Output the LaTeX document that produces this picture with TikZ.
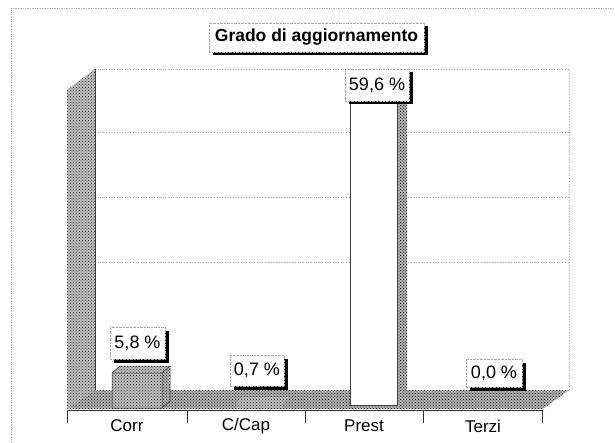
\documentclass[tikz,border=0pt]{standalone}
\usepackage{fontspec}
\setmainfont{Liberation Sans}
\usetikzlibrary{shadows,patterns}
\begin{document}
\begin{tikzpicture}[x=1pt,y=-1pt,
  lbl/.style={draw=gray!70, densely dotted, fill=white, inner sep=0pt,
    font=\fontsize{18}{21}\selectfont,
    drop shadow={shadow xshift=3.5pt, shadow yshift=-3.5pt, fill=black, opacity=1}},
  grid/.style={gray!70, dotted, line width=0.7pt},
  frame/.style={gray!60, densely dotted, line width=0.7pt},
  halftone/.style={preaction={fill=gray!50}, pattern=crosshatch dots, pattern color=gray!30!black},
  halfdark/.style={preaction={fill=gray!60}, pattern=crosshatch dots, pattern color=black},
  cat/.style={font=\fontsize{17}{20}\selectfont, inner sep=0pt},
  tick/.style={gray!40!black, line width=0.8pt}]
\useasboundingbox (0,0) rectangle (615,443);
\fill[white] (0,0) rectangle (615,443);
% outer frame (top and left)
\draw[frame] (11,443) -- (11,8) -- (615,8);
% back wall
\draw[grid] (95,69) -- (569,69) -- (569,390);
\draw[grid] (95,132) -- (569,132);
\draw[grid] (95,197) -- (569,197);
\draw[grid] (95,262) -- (569,262);
% side wall
\fill[halftone] (67,90) -- (95,69) -- (95,390) -- (67,409) -- cycle;
\draw[gray!50!black, line width=0.6pt] (95,69) -- (95,390);
% floor
\fill[halfdark] (95,390) -- (569,390) -- (543,409) -- (67,409) -- cycle;
% axis
\coordinate (a0) at (67,410);
\coordinate (a4) at (543,410);
\draw[tick] (a0) -- (a4);
\foreach \x in {67,187,305,423,542} \draw[tick] (\x,410) -- (\x,423);
\node[cat] (corr) at (127,426) {Corr};
\node[cat] (ccap) at (246,426) {C/Cap};
\node[cat] (prest) at (364,426) {Prest};
\node[cat] (terzi) at (483,426) {Terzi};
% Corr bar
\fill[halftone] (112,373) rectangle (162,408);
\fill[halftone] (112,373) -- (120,366) -- (170,366) -- (162,373) -- cycle;
\fill[halfdark] (162,373) -- (170,366) -- (170,401) -- (162,408) -- cycle;
\draw[gray!40!black, line width=0.5pt] (112,408) -- (112,373) -- (120,366) -- (170,366) -- (170,401) -- (162,408) -- cycle (112,373) -- (162,373) -- (162,408) (162,373) -- (170,366);
% C/Cap slab
\fill[halftone] (236,403) rectangle (283,408);
\fill[halftone] (236,403) -- (243,397) -- (290,397) -- (283,403) -- cycle;
% Prest bar
\fill[halfdark] (397,103) -- (407,96) -- (407,398) -- (397,405) -- cycle;
\draw[fill=white, draw=gray!50!black, line width=0.9pt] (350,103) rectangle (397,405);
% value labels
\node[lbl, minimum width=55pt, minimum height=32pt] (v1) at (137.5,343) {5,8 \%};
\node[lbl, minimum width=54pt, minimum height=31pt] (v2) at (257,370.5) {0,7 \%};
\node[lbl, minimum width=64pt, minimum height=32pt] (v3) at (377,85) {59,6 \%};
\node[lbl, minimum width=56pt, minimum height=28pt] (v4) at (494,373) {0,0 \%};
% title
\node[lbl, minimum width=215pt, minimum height=29pt, font=\bfseries\fontsize{17.5}{20}\selectfont] (title) at (316.5,37.5) {Grado di aggiornamento};
\end{tikzpicture}
\end{document}
